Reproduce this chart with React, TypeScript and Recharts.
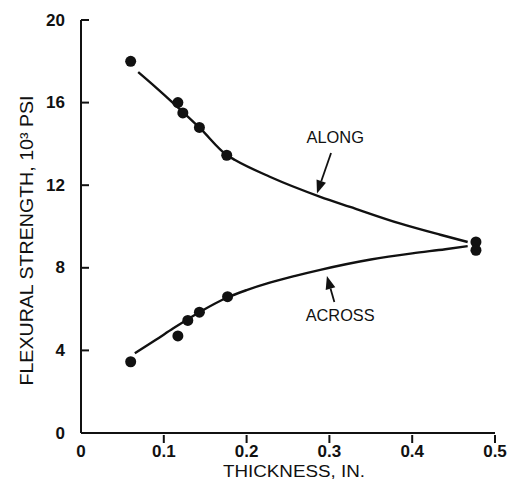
import React from 'react'
import { ComposedChart, Line, Scatter, XAxis, YAxis, ReferenceLine, ReferenceDot } from 'recharts'

const FONT = '"Liberation Sans", Arial, sans-serif'
const INK = '#111'

const xTicks = [0, 0.1, 0.2, 0.3, 0.4, 0.5]
const yTicks = [0, 4, 8, 12, 16, 20]

// measured specimens
const alongPoints = [
  { x: 0.06, y: 18.0 },
  { x: 0.117, y: 16.0 },
  { x: 0.123, y: 15.5 },
  { x: 0.143, y: 14.8 },
  { x: 0.176, y: 13.45 },
  { x: 0.477, y: 9.25 },
]
const acrossPoints = [
  { x: 0.06, y: 3.45 },
  { x: 0.117, y: 4.7 },
  { x: 0.129, y: 5.45 },
  { x: 0.143, y: 5.85 },
  { x: 0.177, y: 6.6 },
  { x: 0.477, y: 8.85 },
]

// hand-drawn fit curves
const alongCurve = [
  { x: 0.069, y: 17.48 },
  { x: 0.09, y: 16.75 },
  { x: 0.114, y: 15.88 },
  { x: 0.144, y: 14.75 },
  { x: 0.176, y: 13.46 },
  { x: 0.186, y: 13.22 },
  { x: 0.228, y: 12.41 },
  { x: 0.289, y: 11.44 },
  { x: 0.325, y: 10.95 },
  { x: 0.385, y: 10.15 },
  { x: 0.434, y: 9.6 },
  { x: 0.467, y: 9.25 },
]
const acrossCurve = [
  { x: 0.065, y: 3.86 },
  { x: 0.09, y: 4.5 },
  { x: 0.1115, y: 5.07 },
  { x: 0.143, y: 5.85 },
  { x: 0.176, y: 6.55 },
  { x: 0.2, y: 6.92 },
  { x: 0.228, y: 7.28 },
  { x: 0.26, y: 7.62 },
  { x: 0.289, y: 7.9 },
  { x: 0.35, y: 8.4 },
  { x: 0.4, y: 8.7 },
  { x: 0.44, y: 8.9 },
  { x: 0.467, y: 9.05 },
]

const annotations = [
  { text: 'ALONG', x: 0.307, y: 14.3, from: { x: 0.302, y: 13.56 }, to: { x: 0.285, y: 11.6 } },
  { text: 'ACROSS', x: 0.313, y: 5.71, from: { x: 0.306, y: 6.34 }, to: { x: 0.297, y: 7.6 } },
]

const fmtX = (v: number) => (v === 0 ? '0' : v.toFixed(1))

const YTick = (props: any) => {
  const { x, y, payload } = props
  return (
    <g>
      <text x={x} y={y} textAnchor="end" dominantBaseline="central" fontFamily={FONT} fontSize={17} fontWeight="bold" fill={INK}>
        {payload.value}
      </text>
      <line x1={x + 16} x2={x + 24} y1={y} y2={y} stroke={INK} strokeWidth={2} />
    </g>
  )
}

const XTick = (props: any) => {
  const { x, y, payload } = props
  return (
    <g>
      <text x={x} y={y + 8} textAnchor="middle" dominantBaseline="central" fontFamily={FONT} fontSize={17} fontWeight="bold" fill={INK}>
        {fmtX(payload.value)}
      </text>
      {payload.value > 0 && <line x1={x} x2={x} y1={y} y2={y - 8} stroke={INK} strokeWidth={2} />}
    </g>
  )
}

const Dot = (props: any) => <circle cx={props.cx} cy={props.cy} r={5.5} fill={INK} />

const Arrow = (props: any) => {
  const { x1, y1, x2, y2 } = props
  const dx = x2 - x1
  const dy = y2 - y1
  const len = Math.sqrt(dx * dx + dy * dy) || 1
  const ux = dx / len
  const uy = dy / len
  const head = 13
  const half = 5
  const bx = x2 - ux * head
  const by = y2 - uy * head
  return (
    <g>
      <line x1={x1} y1={y1} x2={bx} y2={by} stroke={INK} strokeWidth={1.8} />
      <polygon
        points={`${x2},${y2} ${bx - uy * half},${by + ux * half} ${bx + uy * half},${by - ux * half}`}
        fill={INK}
      />
    </g>
  )
}

const YLabel = (props: any) => {
  const { viewBox } = props
  const cx = viewBox.x + 27
  const cy = viewBox.y + viewBox.height / 2 + 14
  return (
    <text
      x={cx}
      y={cy}
      transform={`rotate(-90 ${cx} ${cy})`}
      textAnchor="middle"
      dominantBaseline="central"
      fontFamily={FONT}
      fontSize={18}
      textLength={290}
      lengthAdjust="spacingAndGlyphs"
      fill={INK}
    >
      FLEXURAL STRENGTH, 10³ PSI
    </text>
  )
}

const XLabel = (props: any) => {
  const { viewBox } = props
  const cx = viewBox.x + viewBox.width / 2 + 6
  const cy = viewBox.y + 38
  return (
    <text
      x={cx}
      y={cy}
      textAnchor="middle"
      dominantBaseline="central"
      fontFamily={FONT}
      fontSize={16}
      textLength={142}
      lengthAdjust="spacingAndGlyphs"
      fill={INK}
    >
      THICKNESS, IN.
    </text>
  )
}

export default function App() {
  return (
    <div style={{ position: 'absolute', left: 0, top: 0, width: 510, height: 479, background: '#fff' }}>
      <ComposedChart width={510} height={479} margin={{ top: 20, right: 15, left: 0, bottom: 0 }}>
        <XAxis
          type="number"
          dataKey="x"
          domain={[0, 0.5]}
          ticks={xTicks}
          height={46}
          tickSize={0}
          tickMargin={10}
          tickLine={false}
          tick={<XTick />}
          axisLine={{ stroke: INK, strokeWidth: 2 }}
          label={{ content: <XLabel /> }}
        />
        <YAxis
          type="number"
          domain={[0, 20]}
          ticks={yTicks}
          width={81}
          tickSize={0}
          tickMargin={16}
          tickLine={false}
          tick={<YTick />}
          axisLine={{ stroke: INK, strokeWidth: 2 }}
          label={{ content: <YLabel /> }}
        />
        <Line data={alongCurve} dataKey="y" type="monotone" stroke={INK} strokeWidth={2.4} dot={false} activeDot={false} isAnimationActive={false} />
        <Line data={acrossCurve} dataKey="y" type="monotone" stroke={INK} strokeWidth={2.4} dot={false} activeDot={false} isAnimationActive={false} />
        <Scatter data={alongPoints} dataKey="y" shape={<Dot />} isAnimationActive={false} />
        <Scatter data={acrossPoints} dataKey="y" shape={<Dot />} isAnimationActive={false} />
        {annotations.map((a) => (
          <ReferenceLine key={a.text + '-arrow'} segment={[a.from, a.to]} stroke={INK} shape={<Arrow />} />
        ))}
        {annotations.map((a) => (
          <ReferenceDot
            key={a.text}
            x={a.x}
            y={a.y}
            r={0}
            shape={(p: any) => (
              <text
                x={p.cx}
                y={p.cy}
                textAnchor="middle"
                dominantBaseline="central"
                fontFamily={FONT}
                fontSize={17}
                textLength={a.text.length * 11.5}
                lengthAdjust="spacingAndGlyphs"
                fill={INK}
              >
                {a.text}
              </text>
            )}
          />
        ))}
      </ComposedChart>
    </div>
  )
}
